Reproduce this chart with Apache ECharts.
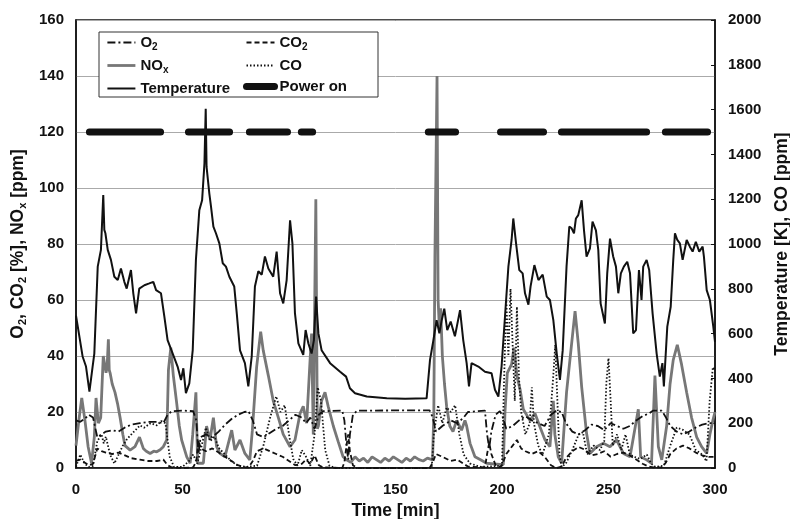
<!DOCTYPE html>
<html>
<head>
<meta charset="utf-8">
<script src="https://cdn.jsdelivr.net/npm/echarts@6/dist/echarts.min.js"></script>
<style>
  html, body { margin: 0; padding: 0; background: #fff; }
  #chart { width: 790px; height: 519px; }
</style>
</head>
<body>
<div id="chart"></div>
<script>
// time [min], value pairs
const tempK = [
  [0, 680], [3.1, 498], [4.7, 453], [6.3, 341], [7.8, 453], [8.6, 511], [10.2, 899], [11.7, 974],
  [12.8, 1219], [13.3, 1063], [13.8, 1048], [14.9, 974], [16.4, 929], [18, 854], [19.6, 839],
  [21.1, 891], [22.7, 831], [23.8, 801], [25.8, 884], [26.9, 780], [28.2, 690], [29.7, 801],
  [32.1, 816], [34.4, 824], [36.3, 831], [37.6, 794], [39.9, 780], [41.5, 675], [43, 571],
  [45.4, 511], [47.7, 453], [49.3, 393], [50.4, 445], [51.6, 334], [53.2, 378], [54.8, 526],
  [56.3, 929], [57.9, 1151], [59.2, 1195], [60.3, 1359], [60.9, 1604], [61.3, 1344], [62.6, 1225],
  [63.4, 1166], [64.5, 1078], [65.7, 1048], [67.3, 1003], [68.9, 914], [70.4, 899], [72, 854],
  [74.3, 810], [75.5, 688], [77, 525], [79.3, 468], [80.9, 364], [82.5, 498], [84, 810],
  [85.6, 878], [87.2, 863], [88.7, 944], [90.3, 891], [92.6, 854], [94.2, 966], [95.8, 780],
  [97.3, 735], [98.9, 839], [100.5, 1106], [101.6, 1003], [102.8, 690], [104.4, 556], [106.7, 505],
  [107.8, 616], [109.1, 556], [110.6, 511], [111.7, 571], [112.7, 765], [113.8, 601], [115.3, 526],
  [119.3, 468], [124, 430], [126.8, 408], [128.6, 356], [131, 334], [136.5, 319], [145.9, 311],
  [154.5, 309], [164.6, 311], [166.2, 483], [167.8, 571], [169.3, 660], [170.6, 601], [171.7, 660],
  [172.9, 711], [174.3, 616], [175.9, 654], [177.9, 588], [180.3, 705], [181.8, 571], [183.4, 468],
  [184.5, 364], [185.7, 468], [188.9, 453], [192, 430], [195.1, 423], [196.7, 349], [198.3, 319],
  [199.8, 453], [201.4, 675], [203, 899], [204.5, 1018], [205.3, 1114], [206.6, 1003], [208.1, 884],
  [209.7, 869], [210.8, 780], [212.4, 729], [213.4, 810], [215.2, 906], [217.1, 839], [219.1, 863],
  [221, 765], [222.5, 750], [224.1, 660], [225.7, 511], [227.2, 393], [228.5, 525], [230.3, 899],
  [231.6, 1078], [232.7, 1070], [233.8, 1048], [234.7, 1114], [235.8, 1129], [237.4, 1195],
  [238.5, 1061], [239.7, 944], [241.3, 981], [242.5, 1100], [244.1, 1061], [245.2, 974],
  [246.3, 735], [248.3, 645], [249.4, 869], [250.7, 1024], [252.2, 944], [253.5, 899], [254.6, 780],
  [255.8, 869], [257.2, 899], [258.8, 921], [260.1, 869], [261.6, 601], [262.9, 616], [264.3, 884],
  [265.5, 750], [266.3, 899], [267.9, 929], [269.1, 884], [270.7, 690], [272.6, 511], [274.1, 408],
  [275.3, 468], [276, 364], [277.6, 631], [279.2, 720], [280.4, 929], [281.2, 1048], [282.3, 1018],
  [283.5, 1003], [284.8, 929], [286.7, 1018], [288.2, 988], [289.5, 966], [291, 1010], [292.6, 966],
  [294.2, 988], [294.8, 944], [296.1, 794], [297.6, 750], [299.2, 631], [300, 563]
];

const noxPpm = [
  [0, 8], [1.5, 18], [2.7, 25], [4.2, 17], [5.7, 7.6], [7.3, 1.7], [8.6, 11], [9.4, 25], [10.5, 16],
  [11.6, 18], [12.8, 40], [14.1, 34], [14.6, 36], [15.2, 46], [15.6, 35], [16, 34], [17, 30],
  [18.3, 27], [19.5, 23], [20.7, 18], [22, 12], [23, 8], [25.4, 6.4], [27.7, 7.6], [29.8, 11],
  [31.6, 7], [33, 6], [34.8, 5.2], [36.5, 6], [37.9, 5.8], [39.5, 6.5], [41, 7.6], [42.6, 10],
  [43.4, 35], [44.5, 43], [45.7, 33], [47.3, 23], [48.5, 15], [49.6, 10], [52, 4], [53.6, 1.7],
  [54.8, 12], [56.3, 27], [57.1, 1.7], [59.8, 1.7], [61.3, 15], [62.9, 10], [64.5, 18], [66, 7.6],
  [67.6, 5.2], [69.9, 4], [73.1, 13.5], [74.6, 6.4], [77, 10], [79.3, 5.2], [81.6, 2.9], [82.8, 13.5],
  [84.8, 36], [86.7, 48.7], [87.9, 42], [90.3, 33], [92.6, 24], [95, 18], [97.3, 12], [100.5, 7.6],
  [102.8, 10], [105.2, 19.5], [106.7, 22], [108.3, 16], [109.9, 38.6], [110.6, 48], [111.4, 12],
  [112.6, 96], [113.3, 14], [113.8, 15], [115.3, 24], [116.9, 27], [118.4, 22], [120.8, 15],
  [123.1, 9.4], [125.4, 4], [127, 2.9], [129, 2], [131, 4], [133, 2.5], [135, 3.5], [137, 2],
  [139, 4], [141, 3], [143, 2], [145, 3.5], [147, 2.5], [149, 4], [151, 3], [153, 2], [155, 3.5],
  [157, 2.5], [159, 4], [161, 3], [163, 2.5], [165, 3.5], [167.4, 2.9], [168, 20], [168.5, 75],
  [169.5, 140], [170, 60], [170.6, 50], [171.2, 57], [172, 40], [173, 30], [174, 22], [175.5, 15],
  [177, 13], [178.7, 17], [181, 13.5], [182.6, 17], [183.4, 15], [185, 8.8], [187.3, 4], [189.7, 3],
  [192.8, 1.7], [196, 1.5], [200.6, 1.2], [201.4, 20], [202.5, 34], [204.5, 37], [205.6, 43],
  [207, 33], [208.5, 28], [210, 21], [213.1, 17], [215.5, 19.5], [217.8, 14.7], [220.2, 10],
  [222.5, 7.6], [224.1, 24], [224.8, 12], [226.4, 4], [228, 1.7], [230.3, 27], [232.7, 44.5],
  [234.3, 56], [235.8, 44.5], [237.4, 29], [239.7, 12.4], [241.3, 5.2], [244.4, 7.6], [247.6, 8.8],
  [250.7, 7.6], [253.8, 10], [257, 5.2], [260.1, 4], [264, 21], [265.1, 4], [267.9, 2.9],
  [270.2, 1.7], [271.8, 33], [273.4, 7.6], [275, 2.9], [277.3, 15], [278.9, 30], [280.4, 38.6],
  [282.3, 44], [284.3, 37], [286.7, 27], [289, 18], [291.4, 11], [293.7, 7.6], [296.1, 5.2],
  [297.6, 12], [299, 17], [300, 20]
];

const o2Pct = [
  [0, 17], [2, 16.5], [4, 17.5], [6, 19], [8, 18], [10, 11], [12, 12], [14, 13], [17, 13.5], [20, 13],
  [23, 14.5], [26, 15.5], [30, 16], [34, 16.5], [38, 16.5], [41, 16], [43, 19], [45, 20.3], [50, 20.5],
  [55, 20.3], [56.5, 17], [57.5, 5], [58.5, 11], [61, 12], [64, 11], [67, 13], [70, 15.5], [73, 17.5],
  [76, 19], [79, 20], [81, 20.3], [83, 17], [85, 12], [88, 11], [91, 12.5], [94, 14], [97, 15],
  [100, 17], [103, 19], [106, 18], [108, 16], [110, 18], [112, 14], [114, 19], [116, 20.3],
  [125, 20.5], [126, 17], [127, 8], [127.8, 3], [128.6, 12], [130, 19], [132, 20.5], [166, 20.6],
  [167.5, 18], [169, 13], [172, 15], [176, 17], [179, 16], [182, 18], [184, 20], [192, 20.5],
  [193, 12], [194, 7], [195, 13], [197, 19], [199, 20.3], [200, 19], [202, 14], [205, 15], [208, 17],
  [211, 18.5], [214, 17], [217, 16], [220, 15], [223, 19], [225.5, 20.5], [228, 20], [230, 16],
  [233, 13], [236, 12], [239, 13.5], [242, 15.5], [245, 15], [248, 13.5], [251, 16], [254, 15],
  [257, 14], [260, 15], [263, 17], [266, 18.5], [269, 19.5], [271, 20.5], [275, 20.5], [277, 18],
  [279, 15], [282, 13], [285, 12], [288, 13], [291, 14.5], [294, 15.5], [297, 16], [300, 16]
];

const co2Pct = [
  [0, 2.5], [2, 3], [4, 2], [6, 1], [8, 1.5], [10, 7], [12, 6], [14, 5.5], [17, 5], [20, 5.5],
  [23, 4.5], [26, 3.5], [30, 3], [34, 2.5], [38, 2.5], [41, 3], [43, 1], [45, 0.2], [50, 0],
  [55, 0.2], [56.5, 2.5], [57.5, 10], [58.5, 7], [61, 6], [64, 7], [67, 5.5], [70, 4], [73, 2.5],
  [76, 1], [79, 0.3], [81, 0.2], [83, 2.5], [85, 6], [88, 7], [91, 6], [94, 5], [97, 4], [100, 2.5],
  [103, 1], [106, 1.5], [108, 3], [110, 1.5], [112, 4.5], [114, 1], [116, 0.2], [125, 0], [126, 2],
  [127, 8], [127.8, 12], [128.6, 6], [130, 1], [132, 0], [166, 0], [167.5, 2], [169, 5], [172, 4],
  [176, 2.5], [179, 3], [182, 1.5], [184, 0.5], [192, 0.2], [193, 5], [194, 9], [195, 5], [197, 1],
  [199, 0.3], [200, 1], [202, 5], [205, 8], [207, 10], [209, 7], [211, 6], [214, 5], [217, 6],
  [220, 4], [223, 1], [225.5, 0], [228, 0.5], [230, 3.5], [233, 6], [236, 7.5], [239, 6.5],
  [242, 4.5], [245, 5], [248, 6], [251, 4], [254, 5], [257, 5.5], [260, 4.5], [263, 3], [266, 1.5],
  [269, 0.5], [271, 0.2], [275, 0.2], [277, 2], [279, 5], [282, 7], [285, 8], [288, 7], [291, 5.5],
  [294, 4.5], [297, 4], [300, 4]
];

const coPpm = [
  [0, 5], [2, 60], [4, 20], [6, 5], [8, 10], [10, 120], [12, 150], [13, 110], [14, 140], [16, 60],
  [18, 20], [20, 60], [22, 100], [24, 130], [26, 150], [28, 170], [30, 190], [32, 180], [35, 200],
  [38, 190], [40, 210], [42, 200], [44, 50], [46, 5], [50, 5], [53, 30], [55, 60], [57, 20],
  [59, 100], [61, 180], [63, 120], [65, 140], [67, 90], [70, 60], [73, 30], [76, 10], [80, 5],
  [85, 10], [88, 100], [91, 220], [94, 320], [96, 250], [98, 280], [100, 150], [102, 40], [104, 10],
  [106, 80], [108, 50], [110, 10], [112, 150], [113.5, 360], [115, 300], [117, 80], [119, 10],
  [122, 0], [167, 0], [168, 150], [170, 280], [172, 200], [174, 270], [176, 250], [178, 280],
  [180, 150], [182, 60], [185, 20], [190, 5], [200, 10], [201, 400], [202, 750], [203, 500],
  [204, 800], [205, 550], [206, 300], [207, 720], [208, 400], [209, 250], [211, 150], [213, 200],
  [214, 360], [215, 200], [217, 100], [219, 60], [222, 150], [224, 400], [225, 550], [226, 300],
  [227, 60], [228, 5], [230, 20], [233, 80], [236, 150], [238, 160], [240, 60], [243, 100],
  [246, 80], [248, 120], [249, 380], [250, 490], [251, 300], [252, 100], [254, 150], [256, 80],
  [258, 150], [260, 60], [262, 50], [265, 40], [268, 60], [270, 20], [272, 5], [276, 10], [279, 100],
  [282, 180], [285, 170], [288, 150], [291, 80], [294, 60], [296, 30], [297.5, 300], [299, 450],
  [300, 440]
];

// periods with the power switched on [start, end] in min
const powerOnPeriods = [
  [6.3, 39.7], [52.8, 72.1], [81.4, 99.3], [105.8, 111.1], [165.4, 178.2],
  [199.3, 219.5], [227.9, 267.9], [276.7, 296.5]
];
const powerOnLevel = 120;

const powerOnData = [];
powerOnPeriods.forEach(p => {
  powerOnData.push([p[0], powerOnLevel], [p[1], powerOnLevel], [p[1], '-']);
});

const FONT = 'Liberation Sans, Arial, sans-serif';
const sub = (size) => ({ fontSize: size, fontWeight: 'bold', fontFamily: FONT, verticalAlign: 'bottom', lineHeight: size, color: '#111' });
const big = (size, lh) => ({ fontSize: size, fontWeight: 'bold', fontFamily: FONT, lineHeight: lh, color: '#111' });

const legendNames = {
  'O2': '{b|O}{s|2}',
  'CO2': '{b|CO}{s|2}',
  'NOx': '{b|NO}{s|x}',
  'CO': '{b|CO}',
  'Temperature': '{b|Temperature}',
  'Power on': '{b|Power on}'
};

const chart = echarts.init(document.getElementById('chart'));

const legendBase = {
  orient: 'vertical',
  top: 35,
  itemWidth: 28,
  itemHeight: 14,
  itemGap: 6,
  padding: 0,
  itemStyle: { opacity: 0 },
  lineStyle: { width: 'inherit' },
  formatter: name => legendNames[name],
  textStyle: { rich: { b: big(15, 19), s: sub(10) } }
};

const option = {
  animation: false,
  backgroundColor: '#fff',
  grid: {
    left: 76, right: 75, top: 20, bottom: 51,
    containLabel: false,
    outerBoundsMode: 'none',
    show: true, borderColor: '#111', borderWidth: 1.5
  },
  graphic: [{
    type: 'rect',
    shape: { x: 99, y: 32, width: 279, height: 65 },
    style: { fill: '#fff', stroke: '#333', lineWidth: 1 },
    z: 3
  }],
  legend: [
    Object.assign({ left: 106, data: ['O2', 'NOx', 'Temperature'], z: 5 }, legendBase),
    Object.assign({ left: 243, data: ['CO2', 'CO', 'Power on'], z: 5 }, legendBase)
  ],
  xAxis: {
    type: 'value',
    min: 0, max: 300, interval: 50,
    name: 'Time [min]',
    nameLocation: 'middle',
    nameGap: 32,
    nameTextStyle: { fontSize: 17.5, fontWeight: 'bold', fontFamily: FONT, color: '#111' },
    axisLine: { lineStyle: { color: '#111', width: 1.5 } },
    axisTick: { show: false },
    axisLabel: { fontSize: 15, fontWeight: 'bold', fontFamily: FONT, color: '#111', margin: 14 },
    splitLine: { show: false }
  },
  yAxis: [
    {
      type: 'value',
      min: 0, max: 160, interval: 20,
      name: '{b|O}{s|2}{b|, CO}{s|2}{b| [%], NO}{s|x}{b| [ppm]}',
      nameLocation: 'middle',
      nameRotate: 90,
      nameGap: 40,
      nameTextStyle: { rich: { b: big(17.5, 20), s: sub(11) } },
      axisLine: { show: true, lineStyle: { color: '#111', width: 1.5 } },
      axisTick: { show: false },
      axisLabel: { fontSize: 15, fontWeight: 'bold', fontFamily: FONT, color: '#111', margin: 12 },
      splitLine: { lineStyle: { color: '#aaa', width: 1 } }
    },
    {
      type: 'value',
      min: 0, max: 2000, interval: 200,
      position: 'right',
      name: 'Temperature [K], CO [ppm]',
      nameLocation: 'middle',
      nameRotate: 90,
      nameGap: 58,
      nameTextStyle: { fontSize: 17.5, fontWeight: 'bold', fontFamily: FONT, color: '#111' },
      axisLine: { show: true, lineStyle: { color: '#111', width: 1.5 } },
      axisTick: { show: true, inside: true, length: 4, lineStyle: { color: '#111' } },
      axisLabel: {
        fontSize: 15, fontWeight: 'bold', fontFamily: FONT, color: '#111', margin: 13,
        formatter: v => String(v)
      },
      splitLine: { show: false }
    }
  ],
  series: [
    {
      name: 'NOx', type: 'line', yAxisIndex: 0, data: noxPpm, symbol: 'none',
      lineStyle: { color: '#777', width: 2.8 }, itemStyle: { color: '#777' }, z: 2
    },
    {
      name: 'O2', type: 'line', yAxisIndex: 0, data: o2Pct, symbol: 'none',
      lineStyle: { color: '#111', width: 1.8, type: [8, 3, 2, 3] }, itemStyle: { color: '#111' }, z: 3
    },
    {
      name: 'CO2', type: 'line', yAxisIndex: 0, data: co2Pct, symbol: 'none',
      lineStyle: { color: '#111', width: 1.8, type: [5, 3] }, itemStyle: { color: '#111' }, z: 3
    },
    {
      name: 'CO', type: 'line', yAxisIndex: 1, data: coPpm, symbol: 'none',
      lineStyle: { color: '#111', width: 1.8, type: [1.5, 2] }, itemStyle: { color: '#111' }, z: 3
    },
    {
      name: 'Temperature', type: 'line', yAxisIndex: 1, data: tempK, symbol: 'none',
      lineStyle: { color: '#111', width: 2 }, itemStyle: { color: '#111' }, z: 4
    },
    {
      name: 'Power on', type: 'line', yAxisIndex: 0, data: powerOnData, symbol: 'none',
      connectNulls: false,
      lineStyle: { color: '#111', width: 7, cap: 'round' }, itemStyle: { color: '#111' }, z: 4
    }
  ]
};

chart.setOption(option);
</script>
</body>
</html>
